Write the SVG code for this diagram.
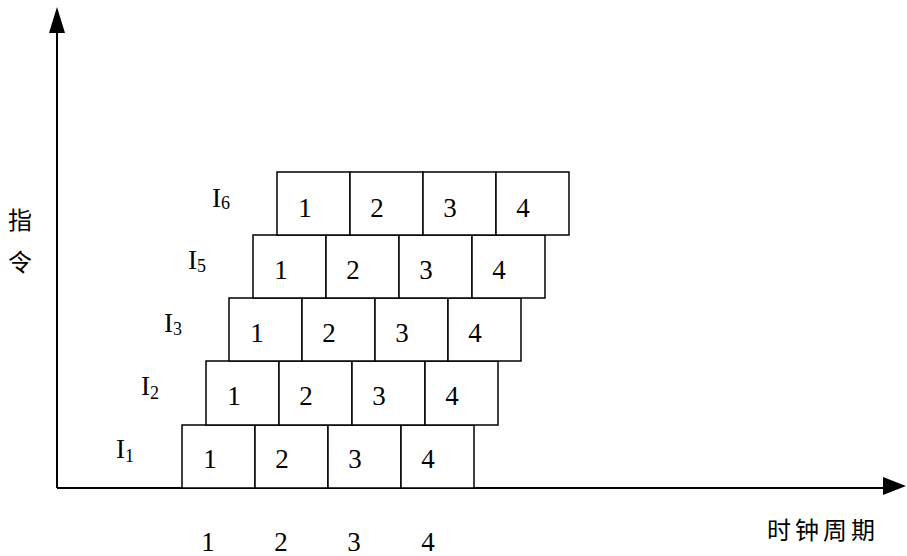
<svg xmlns="http://www.w3.org/2000/svg" width="907" height="556" viewBox="0 0 907 556">
<style>
.cell{fill:#fff;stroke:#000;stroke-width:1.5}
.num{font-family:"Liberation Serif",serif;font-size:27px;fill:#000;text-anchor:middle}
.lbl{font-family:"Liberation Serif",serif;font-size:27px;fill:#000}
.sub{font-size:18px}
.cjk{font-family:"Noto Sans CJK SC","Noto Sans CJK JP",sans-serif;font-size:24px;fill:#000}
.axis{stroke:#000;stroke-width:2;fill:none}
</style>
<rect width="907" height="556" fill="#fff"/>
<g id="connectors">
<line class="axis" x1="57" y1="488" x2="57" y2="28"/>
<polygon points="57,7 49,33 65,33" fill="#000"/>
<line class="axis" x1="57" y1="488" x2="884" y2="488"/>
<polygon points="906,486 883,477 883,495" fill="#000"/>
</g>
<g id="I1">
<rect class="cell" x="182" y="425" width="73" height="63"/>
<rect class="cell" x="255" y="425" width="73" height="63"/>
<rect class="cell" x="328" y="425" width="73" height="63"/>
<rect class="cell" x="401" y="425" width="73" height="63"/>
<text class="num" x="210" y="468">1</text>
<text class="num" x="282" y="468">2</text>
<text class="num" x="355" y="468">3</text>
<text class="num" x="428" y="468">4</text>
<text class="lbl" x="116" y="458">I<tspan class="sub" dy="4">1</tspan></text>
</g>
<g id="I2">
<rect class="cell" x="206" y="361" width="73" height="64"/>
<rect class="cell" x="279" y="361" width="73" height="64"/>
<rect class="cell" x="352" y="361" width="73" height="64"/>
<rect class="cell" x="425" y="361" width="73" height="64"/>
<text class="num" x="234" y="405">1</text>
<text class="num" x="306" y="405">2</text>
<text class="num" x="379" y="405">3</text>
<text class="num" x="452" y="405">4</text>
<text class="lbl" x="141" y="395">I<tspan class="sub" dy="4">2</tspan></text>
</g>
<g id="I3">
<rect class="cell" x="229" y="298" width="73" height="63"/>
<rect class="cell" x="302" y="298" width="73" height="63"/>
<rect class="cell" x="375" y="298" width="73" height="63"/>
<rect class="cell" x="448" y="298" width="73" height="63"/>
<text class="num" x="257" y="342">1</text>
<text class="num" x="329" y="342">2</text>
<text class="num" x="402" y="342">3</text>
<text class="num" x="475" y="342">4</text>
<text class="lbl" x="164" y="332">I<tspan class="sub" dy="3">3</tspan></text>
</g>
<g id="I5">
<rect class="cell" x="253" y="235" width="73" height="63"/>
<rect class="cell" x="326" y="235" width="73" height="63"/>
<rect class="cell" x="399" y="235" width="73" height="63"/>
<rect class="cell" x="472" y="235" width="73" height="63"/>
<text class="num" x="281" y="279">1</text>
<text class="num" x="353" y="279">2</text>
<text class="num" x="426" y="279">3</text>
<text class="num" x="499" y="279">4</text>
<text class="lbl" x="188" y="269">I<tspan class="sub" dy="3">5</tspan></text>
</g>
<g id="I6">
<rect class="cell" x="277" y="172" width="73" height="63"/>
<rect class="cell" x="350" y="172" width="73" height="63"/>
<rect class="cell" x="423" y="172" width="73" height="63"/>
<rect class="cell" x="496" y="172" width="73" height="63"/>
<text class="num" x="305" y="217">1</text>
<text class="num" x="377" y="217">2</text>
<text class="num" x="450" y="217">3</text>
<text class="num" x="523" y="217">4</text>
<text class="lbl" x="212" y="207">I<tspan class="sub" dy="2">6</tspan></text>
</g>
<g id="axis-labels">
<text class="cjk" x="8" y="229">指</text>
<text class="cjk" x="8" y="271">令</text>
<text class="cjk" x="767" y="539" letter-spacing="4">时钟周期</text>
<text class="num" x="208" y="551">1</text>
<text class="num" x="281" y="551">2</text>
<text class="num" x="354" y="551">3</text>
<text class="num" x="428" y="551">4</text>
</g>
</svg>
